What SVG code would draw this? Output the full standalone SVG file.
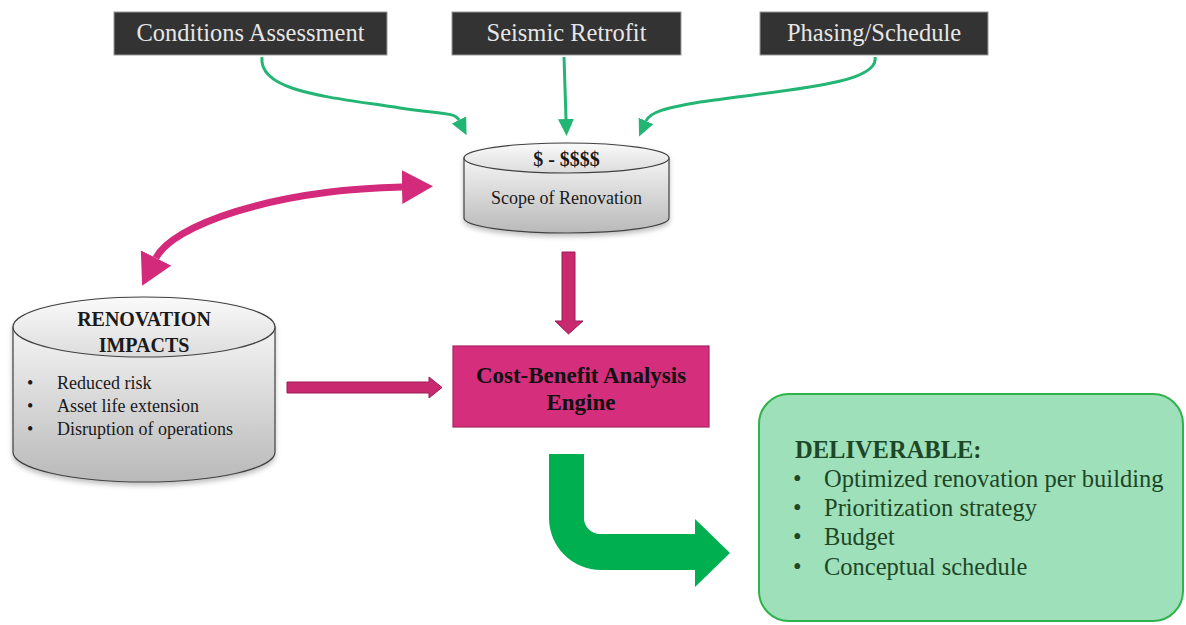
<svg xmlns="http://www.w3.org/2000/svg" width="1186" height="625" viewBox="0 0 1186 625">
<defs>
<style>
.box{fill:#333333;stroke:#9a9a9a;stroke-width:1}
.boxt{font-family:"Liberation Serif",serif;font-size:24.5px;fill:#e6e6e6;text-anchor:middle}
.serif{font-family:"Liberation Serif",serif}
.cyl{stroke:#404040;stroke-width:1.2}
.gline{fill:none;stroke:#23b574;stroke-width:3}
.mline{fill:none;stroke:#d32a7c;stroke-width:7}
.block{fill:#c8296f;stroke:#9c1d56;stroke-width:1}
.dtext{font-family:"Liberation Serif",serif;font-size:24.5px;fill:#1d4727}
</style>
<filter id="sh" x="-10%" y="-10%" width="120%" height="130%">
<feDropShadow dx="0" dy="3" stdDeviation="2.5" flood-color="#000" flood-opacity="0.25"/>
</filter>
<linearGradient id="body" x1="0" y1="0" x2="0" y2="1">
<stop offset="0" stop-color="#f4f4f4"/>
<stop offset="1" stop-color="#b9b9b9"/>
</linearGradient>
<linearGradient id="top" x1="0" y1="0" x2="0" y2="1">
<stop offset="0" stop-color="#fafafa"/>
<stop offset="1" stop-color="#dcdcdc"/>
</linearGradient>
<marker id="gh" markerUnits="userSpaceOnUse" markerWidth="18" markerHeight="16" viewBox="0 0 18 16" refX="0" refY="8" orient="auto">
<path d="M0,0 L17,8 L0,16 z" fill="#23b574"/>
</marker>
<marker id="mh" markerUnits="userSpaceOnUse" markerWidth="32" markerHeight="34" viewBox="0 0 32 34" refX="0" refY="17" orient="auto-start-reverse">
<path d="M0,0 L31,17 L0,34 z" fill="#d32a7c"/>
</marker>
</defs>

<g id="connectors">
<path class="gline" d="M262,57 C258,92 330,97 400,108 C440,114 455,112 459,120" marker-end="url(#gh)"/>
<path class="gline" d="M564,57 L566,119" marker-end="url(#gh)"/>
<path class="gline" d="M875,57 C880,85 780,90 700,102 C665,108 650,112 646,121" marker-end="url(#gh)"/>
<path class="mline" d="M156,258 C172,226 270,190 402,187" marker-start="url(#mh)" marker-end="url(#mh)"/>
<polygon class="block" points="562,252 575,252 575,321 583,321 568.5,334 555,321 562,321"/>
<polygon class="block" points="287,382 429,382 429,377 442,387.5 429,398 429,393 287,393"/>
<path fill="#00b050" d="M549,454 L584,454 L584,518 A16,16 0 0 0 600,534 L695,534 L695,519 L730,553 L695,587 L695,570 L601,570 A52,52 0 0 1 549,518 Z"/>
</g>

<g id="conditions">
<rect class="box" x="114" y="12" width="273" height="43"/>
<text class="boxt" x="250.5" y="41">Conditions Assessment</text>
</g>
<g id="seismic">
<rect class="box" x="452" y="12" width="229" height="43"/>
<text class="boxt" x="566.5" y="41">Seismic Retrofit</text>
</g>
<g id="phasing">
<rect class="box" x="760" y="12" width="228" height="43"/>
<text class="boxt" x="874" y="41">Phasing/Schedule</text>
</g>

<g id="scope">
<g filter="url(#sh)">
<path class="cyl" fill="url(#body)" d="M464,158 L464,218 A102.5,15 0 0 0 669,218 L669,158 Z"/>
<ellipse class="cyl" fill="url(#top)" cx="566.5" cy="158" rx="102.5" ry="15"/>
</g>
<text class="serif" x="566.5" y="166" font-size="20" font-weight="bold" text-anchor="middle" fill="#1a1a1a">$ - $$$$</text>
<text class="serif" x="566.5" y="204" font-size="18" text-anchor="middle" fill="#1a1a1a">Scope of Renovation</text>
</g>

<g id="impacts">
<g filter="url(#sh)">
<path class="cyl" fill="url(#body)" d="M13,327 L13,452 A131,30 0 0 0 275,452 L275,327 Z"/>
<ellipse class="cyl" fill="url(#top)" cx="144" cy="327" rx="131" ry="30"/>
</g>
<text class="serif" x="144" y="326" font-size="20" font-weight="bold" text-anchor="middle" fill="#1a1a1a">RENOVATION</text>
<text class="serif" x="144" y="352" font-size="20" font-weight="bold" text-anchor="middle" fill="#1a1a1a">IMPACTS</text>
<g class="serif" font-size="18" fill="#1a1a1a">
<text x="27" y="389">•</text><text x="57" y="389">Reduced risk</text>
<text x="27" y="412">•</text><text x="57" y="412">Asset life extension</text>
<text x="27" y="435">•</text><text x="57" y="435">Disruption of operations</text>
</g>
</g>

<g id="engine">
<rect x="453" y="346" width="256" height="81" fill="#d42e7d" stroke="#a8235f" stroke-width="1.2"/>
<text class="serif" x="581" y="383" font-size="23" font-weight="bold" text-anchor="middle" fill="#111">Cost-Benefit Analysis</text>
<text class="serif" x="581" y="410" font-size="23" font-weight="bold" text-anchor="middle" fill="#111">Engine</text>
</g>

<g id="deliverable">
<rect x="759" y="394" width="424" height="227" rx="30" fill="#9de0b9" stroke="#2db34a" stroke-width="2"/>
<text class="dtext" x="795" y="458" font-weight="bold">DELIVERABLE:</text>
<text class="dtext" x="793" y="487">•</text><text class="dtext" x="824" y="487">Optimized renovation per building</text>
<text class="dtext" x="793" y="516">•</text><text class="dtext" x="824" y="516">Prioritization strategy</text>
<text class="dtext" x="793" y="545">•</text><text class="dtext" x="824" y="545">Budget</text>
<text class="dtext" x="793" y="575">•</text><text class="dtext" x="824" y="575">Conceptual schedule</text>
</g>
</svg>
